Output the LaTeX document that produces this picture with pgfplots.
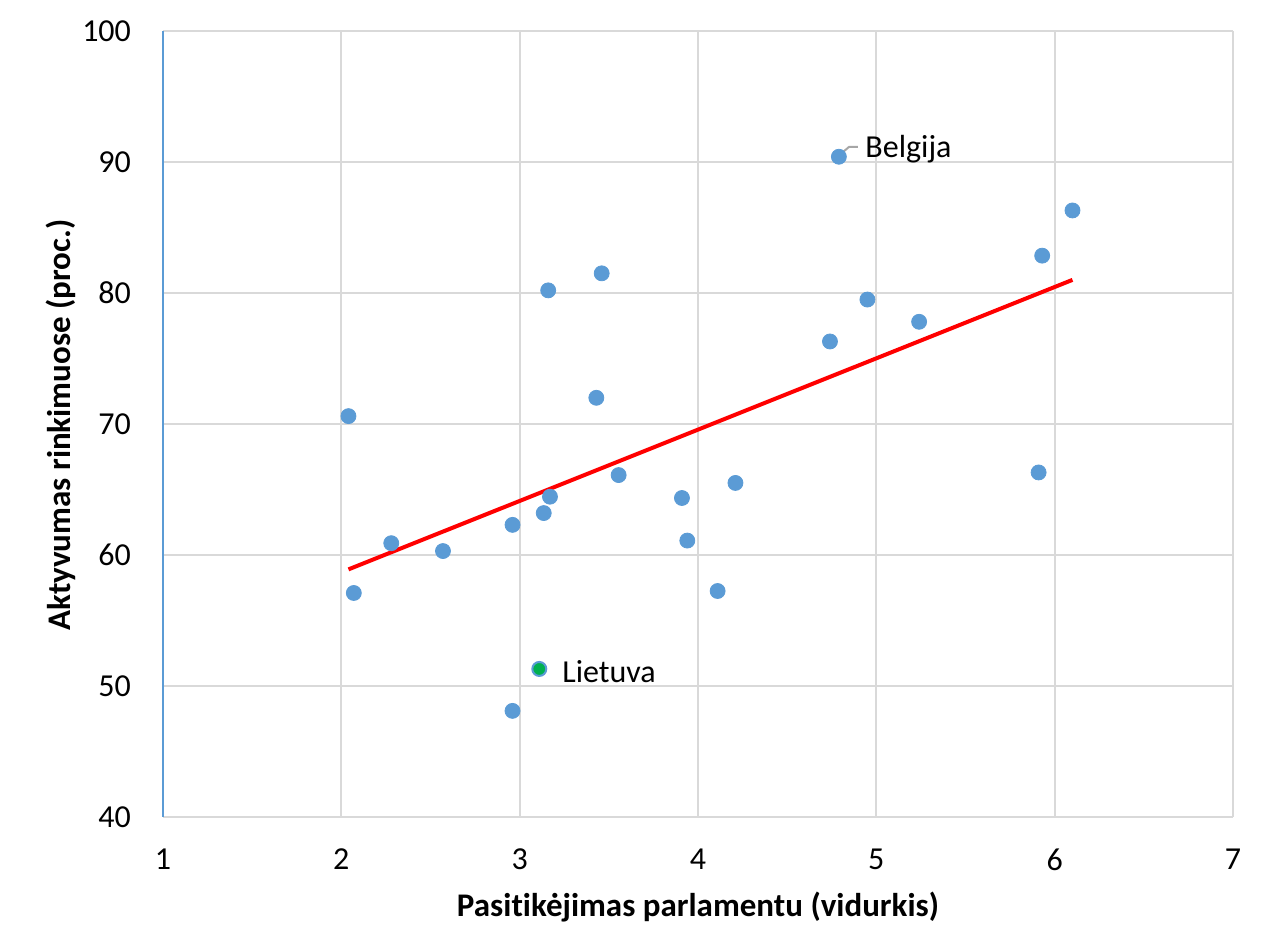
\documentclass[border=0pt]{standalone}
\usepackage{fontspec}
\setmainfont[Ligatures=NoCommon]{Carlito}
\usepackage{pgfplots}
\pgfplotsset{compat=1.18}
\definecolor{ptblue}{HTML}{5B9BD5}
\definecolor{gridgray}{HTML}{D9D9D9}
\definecolor{ltgreen}{HTML}{00B050}
\definecolor{leader}{HTML}{A6A6A6}
\begin{document}
\begin{tikzpicture}
\path[use as bounding box] (-81.5pt,-61.5pt) rectangle (559.5pt,408.5pt);
\begin{axis}[
 scale only axis, width=535pt, height=393pt,
 xmin=1,xmax=7,ymin=40,ymax=100,
 xtick={1,2,3,4,5,6,7}, ytick={40,50,60,70,80,90,100},
 grid=major, grid style={gridgray, line width=1pt},
 axis x line=bottom, axis y line=left,
 x axis line style={gridgray, line width=1pt, -},
 y axis line style={ptblue, line width=1pt, -},
 major tick length=0pt,
 font=\fontsize{16}{19}\selectfont,
 /pgf/number format/assume math mode=true,
 ticklabel style={font=\fontsize{16}{19}\selectfont},
 xticklabel style={yshift=-12.5pt},
 yticklabel style={xshift=-12.5pt},
 xlabel={\bfseries Pasitikėjimas parlamentu (vidurkis)},
 ylabel={\bfseries Aktyvumas rinkimuose (proc.)},
 x label style={at={(axis description cs:0.5,-0.1145)},anchor=center,font=\fontsize{16.5}{19}\selectfont},
 y label style={at={(axis description cs:-0.0955,0.4985)},anchor=center,font=\fontsize{16.5}{19}\selectfont},
 clip=false,
]
\addplot[only marks, mark=*, mark size=3.75pt, mark options={fill=ptblue, draw=ptblue}] table {
x y
2.04 70.6
2.07 57.1
2.28 60.9
2.57 60.3
2.96 62.3
2.96 48.1
3.135 63.2
3.17 64.45
3.43 72.0
3.46 81.5
3.16 80.2
3.555 66.1
3.91 64.35
3.94 61.1
4.11 57.25
4.21 65.5
4.74 76.3
4.79 90.4
4.95 79.5
5.24 77.8
5.91 66.3
5.93 82.85
6.10 86.3
};
\addplot[only marks, mark=*, mark size=3.5pt, mark options={fill=ltgreen, draw=ptblue, line width=1pt}] coordinates {(3.11,51.3)};
\addplot[red, line width=2pt, no marks] coordinates {(2.04,58.9) (6.10,81.0)};
\addplot[leader, line width=1pt, no marks] coordinates {(4.813,90.76) (4.847,91.15) (4.897,91.15)};
\node[anchor=west, inner sep=0pt, font=\fontsize{16}{19}\selectfont] at (axis cs:4.937,91.0) {Belgija};
\node[anchor=west, inner sep=0pt, font=\fontsize{16}{19}\selectfont] at (axis cs:3.237,51.1) {Lietuva};
\end{axis}
\end{tikzpicture}
\end{document}
